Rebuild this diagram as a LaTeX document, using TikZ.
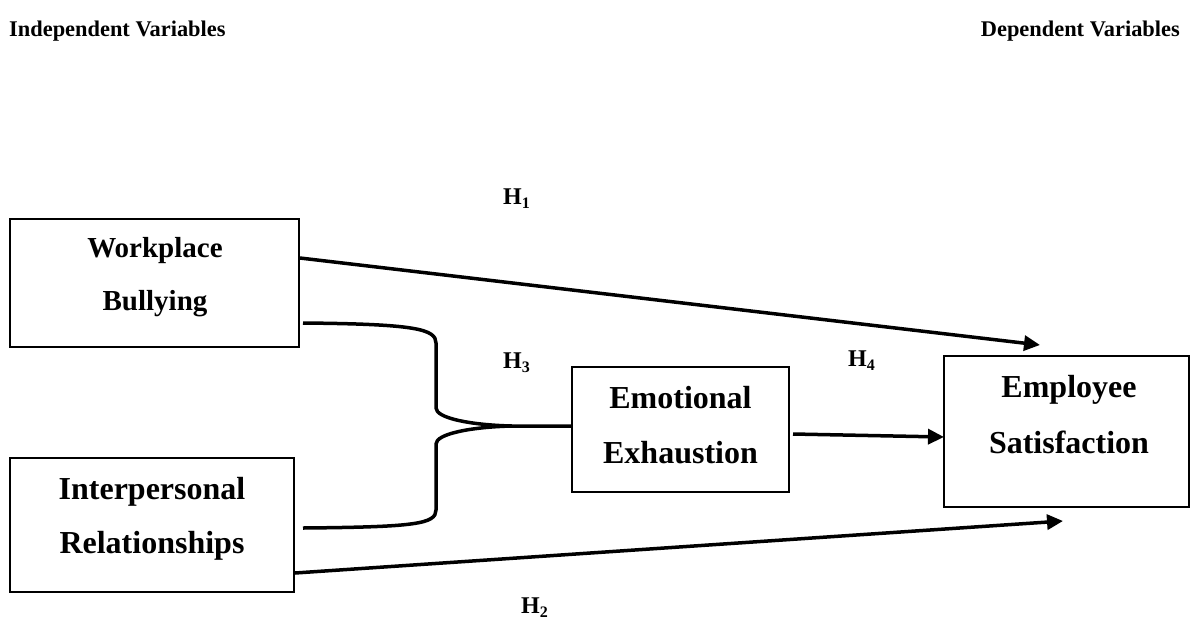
\documentclass[tikz,border=0pt]{standalone}
\usepackage{fontspec}
\setmainfont{Liberation Serif}
\usetikzlibrary{arrows.meta}
\begin{document}
\begin{tikzpicture}[x=1pt,y=-1pt,
  box/.style={draw, line width=2pt, inner sep=0pt, outer sep=0pt},
  boxtext/.style={inner sep=0pt, anchor=base, font=\bfseries\fontsize{32}{38}\selectfont},
  smalltext/.style={inner sep=0pt, anchor=base, font=\bfseries\fontsize{29}{35}\selectfont},
  head/.style={inner sep=0pt, font=\bfseries\fontsize{22.4}{26}\selectfont},
  hyp/.style={inner sep=0pt, anchor=base west, font=\bfseries\fontsize{24}{28}\selectfont},
  arr/.style={line width=3.5pt, -{Triangle[length=16pt,width=15pt]}},
  link/.style={line width=3.5pt}
]
\useasboundingbox (0,0) rectangle (1191,622);

% headers
\node[head, anchor=base west] (indep) at (9,36) {Independent Variables};
\node[head, anchor=base east] (dep) at (1180,36) {Dependent Variables};

% boxes
\node[box, minimum width=289pt, minimum height=128pt] (wb) at (154.5,283) {};
\node[box, minimum width=284pt, minimum height=134pt] (ir) at (152,525) {};
\node[box, minimum width=217pt, minimum height=125pt] (ee) at (680.5,429.5) {};
\node[box, minimum width=245pt, minimum height=151pt] (es) at (1066.5,431.5) {};

% box texts
\node[smalltext] (wb1) at (155,257) {Workplace};
\node[smalltext] (wb2) at (155,310) {Bullying};
\node[boxtext] (ir1) at (152,499) {Interpersonal};
\node[boxtext] (ir2) at (152,553) {Relationships};
\node[boxtext] (ee1) at (680.5,408) {Emotional};
\node[boxtext] (ee2) at (680.5,463) {Exhaustion};
\node[boxtext] (es1) at (1069,397) {Employee};
\node[boxtext] (es2) at (1069,453) {Satisfaction};

% hypothesis labels
\newcommand{\hsub}[1]{\raisebox{-4pt}{\fontsize{16}{18}\selectfont #1}}
\node[hyp] (h1) at (503,204) {H\hsub{1}};
\node[hyp] (h3) at (503,368) {H\hsub{3}};
\node[hyp] (h4) at (848,366) {H\hsub{4}};
\node[hyp] (h2) at (521,613) {H\hsub{2}};

% connector end points
\coordinate (h1s) at (300,258);
\coordinate (h1e) at (1040,345);
\coordinate (h2s) at (295,573);
\coordinate (h2e) at (1063,521);
\coordinate (h4s) at (793,434);
\coordinate (h4e) at (944,437);
\coordinate (bt) at (303,323);
\coordinate (bb) at (303,528);
\coordinate (bm) at (512,426);
\coordinate (bj) at (571,426);

% arrows
\draw[arr] (h1s) -- (h1e);
\draw[arr] (h2s) -- (h2e);
\draw[arr] (h4s) -- (h4e);

% brace joining the two independent variables
\draw[link, line join=round] (bt) .. controls (415,324) and (436,329) .. (436,343)
  -- (436,408) .. controls (436,418) and (470,425) .. (bm) -- (bj);
\draw[link, line join=round] (bm) .. controls (470,427) and (436,434) .. (436,444)
  -- (436,510) .. controls (436,524) and (415,527) .. (bb);
\end{tikzpicture}
\end{document}
